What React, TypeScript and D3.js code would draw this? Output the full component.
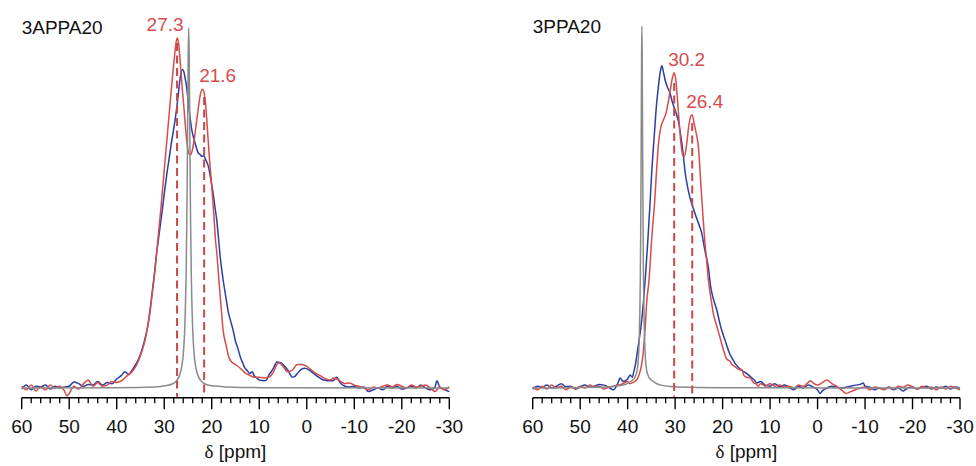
import React from 'react';
import * as d3 from 'd3';

type Pt = [number, number];

// ---- data: [ppm, intensity] ----
const leftRed: Pt[] = [[60,0.5],[59,-0.5],[58,0.8],[57,-0.8],[56,0.3],[55,-0.5],[54,0.8],[53,0],[52,0.5],[51,-0.8],[50.5,-2.2],[50,-1.5],[49,0.5],[48,-0.3],[47,1.2],[46,2.2],[45,0.5],[44,1.5],[43,0.5],[42,0.8],[41,1.8],[40,1.5],[39.3,1.8],[38.5,2.5],[38,3.2],[37.2,4],[36.5,5],[35.8,6.5],[35.1,8.7],[34.5,11],[34,13.5],[33.5,17],[33,21],[32.5,26.5],[32,32],[31.6,37.5],[31.2,43],[30.8,48.5],[30.4,54.5],[30,60.5],[29.6,66.5],[29.2,72.5],[28.8,78.5],[28.4,84.5],[28,90],[27.6,95],[27.3,97.2],[27,96],[26.6,90],[26.2,83],[25.8,77],[25.5,72],[25.2,68],[24.9,65.5],[24.5,64.7],[24.2,65.5],[23.8,68],[23.3,73],[22.8,78],[22.4,81.5],[22,83],[21.7,82.5],[21.3,79],[20.9,71.7],[20.5,64],[20,56],[19.6,49],[19.2,41],[18.9,37],[18.5,30],[18,22],[17.6,16],[17,12],[16.5,9],[16,7.5],[15,6.5],[14,5.5],[13,4.2],[12,3.5],[11,3],[10,3],[9,2.8],[8,3],[7,4.5],[6.3,6.5],[5.8,7],[5,6],[4,4.5],[3,5],[2,6.5],[1,6.5],[0,6],[-1,5],[-2,4],[-3,3.3],[-4,2.5],[-5,2.2],[-5.6,2.8],[-7,2],[-8,1.2],[-9,1.4],[-10,0.8],[-11,0.5],[-12,0],[-13,-0.5],[-14,0.3],[-15,0],[-16,0.5],[-17,0.8],[-18,0.3],[-19,1],[-20,0.5],[-21,0],[-22,0.8],[-23,0.3],[-24,0.5],[-25,0.8],[-26,0],[-27,-1],[-28,0.3],[-29,-0.5],[-30,0.3]];

const leftBlue: Pt[] = [[60,-0.3],[59,0.8],[58,-0.5],[57,0.5],[56,0.3],[55,0.8],[54,-0.3],[53,0.5],[52,0],[51,0.3],[50,0.5],[49,1.7],[48,1.2],[47,0.5],[46,1],[45,0.8],[44,1.8],[43,0.8],[42,1.5],[41,1.2],[40,2.5],[39,3.5],[38.3,4.5],[37.5,3.8],[37,4.5],[36.5,5.5],[35.8,7],[35.1,9],[34.5,11.5],[34,14],[33.5,17],[33,21.5],[32.5,27],[32,32.5],[31.6,37.5],[31.2,41.5],[30.8,45.5],[30.4,49.5],[30,54],[29.5,59],[29,63.5],[28.5,68],[28,72],[27.5,76.5],[27,82],[26.6,86.5],[26.2,88.5],[25.9,88],[25.6,86],[25.3,83.7],[24.9,79],[24.2,71.7],[23.5,68],[22.8,65.2],[22.4,64.8],[22.1,64.3],[21.7,64.6],[21.3,63.5],[20.7,61.5],[20.2,58],[19.7,54],[19.3,50],[18.95,46.7],[18.6,42],[18.3,37.5],[17.6,30],[17,25],[16.5,21],[16,18.5],[15.5,16],[15,13],[14.5,11],[14,8.7],[13.5,7],[13,5.5],[12.5,4.8],[12,4],[11.5,4.5],[11,3.3],[10.5,2.8],[10,2.2],[9,2],[8.5,2.2],[8,3.5],[7,5.5],[6.3,7.2],[5.5,7],[5,6.5],[4,5],[3,3],[2.5,3.2],[2,4],[1,5.3],[0.4,5.5],[-0.5,5],[-1.5,4],[-2.5,3],[-3.5,2.2],[-4.5,2],[-5.5,2],[-6.3,3],[-7,1.5],[-8,0.5],[-9,0.3],[-10,0.5],[-11,0],[-12,0.3],[-13,-1],[-14,-0.5],[-15,0],[-16,-0.5],[-17,0.5],[-18,0],[-19,0.5],[-20,-0.3],[-21,0],[-22,0.5],[-23,0],[-24,0.8],[-25,0],[-26,-0.5],[-27,0.3],[-27.4,2],[-28,0.2],[-29,-0.5],[-30,-1]];

const leftGray: Pt[] = [[60,0],[40,0.1],[32,0.3],[29.85,0.6],[28.35,1.1],[27.35,2.1],[26.85,3.3],[26.35,5.7],[25.95,10],[25.7,16],[25.55,22],[25.4,31],[25.25,46],[25.15,60],[25.05,77],[24.95,93],[24.85,100],[24.75,93],[24.65,77],[24.55,60],[24.45,46],[24.3,31],[24.15,22],[24,16],[23.75,10],[23.35,5.7],[22.85,3.3],[22.35,2.1],[21.35,1.1],[19.85,0.6],[17,0.3],[10,0.1],[-30,0]];

const rightRed: Pt[] = [[60,0.3],[59,-0.5],[58,0.5],[57,-0.3],[56,0.8],[55,0],[54,0.5],[53,-0.5],[52,0.3],[51,-0.3],[50,0.5],[49,0],[48,0.8],[47,0.3],[46,0.5],[45,-0.3],[44,0.2],[43,0.5],[42,0.8],[41,1.2],[40,1.8],[39.5,1.2],[39,1.5],[38.5,1.8],[38,2.5],[37.5,4],[37,7],[36.7,10],[36.3,17],[36,23.6],[35.5,30],[34.9,42],[34.3,52],[33.9,60.6],[33.5,68],[33,72.5],[32.5,74.4],[32,76],[31.5,79],[31,83],[30.6,86],[30.2,87.6],[29.9,86],[29.5,80],[29.1,73],[28.7,67],[28.3,64.5],[28,64.4],[27.6,67.5],[27.1,73],[26.7,75.5],[26.4,75.8],[26,73.5],[25.6,71],[25.1,67],[24.6,57],[24.1,47],[23.7,40],[23.4,36],[23,30],[22.3,23.6],[22,21],[21.3,17.5],[20.6,14.3],[19.8,10.5],[19.1,8],[18.5,7.5],[18,6.5],[17.5,6],[17,5.5],[16.3,5],[16,5.2],[15.5,3.5],[15,3],[14.2,2.8],[13.5,1.5],[13,1.2],[12.5,0.5],[12,1.2],[11,0.5],[10,1.2],[9,0.5],[8,0.8],[7,0.3],[6,0.5],[5,0],[4,0.8],[3,0.5],[2,1.5],[1.5,2],[1,1.5],[0,0.8],[-1,1.5],[-2,2.2],[-3,1.2],[-4,0.5],[-5,-0.5],[-6,-1.5],[-7,-1],[-8,-0.5],[-9,0],[-10,0.3],[-11,-0.5],[-12,0.3],[-13,0],[-14,-0.5],[-15,0.3],[-16,-0.3],[-17,0.5],[-18,0.2],[-19,0.8],[-20,0.3],[-21,-0.3],[-22,0.5],[-23,0],[-24,0.3],[-25,-0.5],[-26,0.3],[-27,-0.3],[-28,0.5],[-29,0],[-30,-0.5]];

const rightBlue: Pt[] = [[60,-0.3],[59,0.5],[58,0.2],[57,0.8],[56,0],[55,0.5],[54,1.2],[53,0.3],[52,0.5],[51,-0.3],[50,0.3],[49,0.8],[48,0.2],[47,0.5],[46,1],[45,0.8],[44,0.2],[43,-0.5],[42,1.5],[41.6,2.8],[41,1.8],[40,2.5],[39.5,3.6],[39,3],[38.8,4],[38.3,7],[37.8,11.5],[37.2,17],[36.7,23.5],[36.2,32],[35.7,42],[35.3,51],[34.9,60.6],[34.4,70],[33.9,79],[33.5,84],[33.1,88],[32.8,89.5],[32.5,88],[32.1,85.5],[31.6,83.5],[31.1,82],[30.6,79.5],[30.1,77.5],[29.6,75.5],[29.3,74],[28.8,70],[28.3,65],[27.9,60],[27.4,56],[26.8,52.5],[26.2,50],[25.3,46.5],[24.4,43],[23.7,38],[23,33.5],[22.5,28],[22,25],[21.3,22],[20.4,17],[19.5,13.3],[18.5,9.5],[17.8,7.8],[17.4,6.9],[16.5,5.5],[15.5,4.5],[14.9,4],[14,3],[13.3,2.2],[12.8,1.4],[12,1.8],[11,0.8],[10,0.5],[9,1.2],[8,0.3],[7,0.8],[6,0.2],[5,-0.5],[4,0.5],[3,0],[2,0.8],[1,0.3],[0,-0.5],[-0.5,-1.5],[-1,-0.8],[-2,0],[-3,0.5],[-4,0.3],[-5,0],[-6,0.2],[-7,0.5],[-8,0.8],[-9,1],[-9.6,1.4],[-10,0.5],[-11,0.2],[-12,-0.5],[-13,0],[-14,-0.3],[-15,0.2],[-16,-0.5],[-17,0],[-18,-0.8],[-19,0],[-20,0.3],[-21,-0.3],[-22,0.2],[-23,0.5],[-24,-0.3],[-25,0.3],[-26,0],[-27,0.5],[-28,-0.3],[-29,0.3],[-30,0]];

const rightGray: Pt[] = [[60,0],[47,0.2],[43,0.4],[41,0.8],[40,1.3],[39,2.2],[38.4,3.2],[38,5],[37.75,8],[37.55,14],[37.42,22],[37.32,32],[37.24,46],[37.18,60],[37.12,77],[37.06,93],[37,100.5],[36.94,93],[36.88,77],[36.82,60],[36.76,46],[36.68,32],[36.58,22],[36.45,14],[36.25,8],[36,5],[35.6,3.2],[35,2.2],[34,1.3],[33,0.8],[31,0.4],[27,0.2],[20,0.1],[-30,0]];

// peak markers: ppm, label, top intensity of the dashed marker
const leftPeakPpm = [27.3, 21.6];
const leftPeakLabels = ['27.3', '21.6'];
const leftPeakTop = [95.8, 80.8];
const leftPeakHeight = [97.2, 83];
const rightPeakPpm = [30.2, 26.4];
const rightPeakLabels = ['30.2', '26.4'];
const rightPeakTop = [84.7, 73.6];
const rightPeakHeight = [87.6, 75.8];

const majorTicks = [60, 50, 40, 30, 20, 10, 0, -10, -20, -30];
const majorTickLabels = ['60', '50', '40', '30', '20', '10', '0', '-10', '-20', '-30'];
const titles = ['3APPA20', '3PPA20'];

// ---- layout / style ----
const W = 976, H = 466;
const AXIS_Y = 397.7;
const RED = '#d64b4b';
const DASH_RED = '#c8484a';
const BLUE = '#2b3ea3';
const GRAY = '#8a8a8a';
const FONT = '"Liberation Sans", Arial, Helvetica, sans-serif';
const labelDx = [[-12, 13.5], [12.5, 12.5]];

const yScale = d3.scaleLinear().domain([0, 100]).range([388, 28]);

const panels = [
  { title: titles[0], red: leftRed, blue: leftBlue, gray: leftGray, peaks: leftPeakPpm, labels: leftPeakLabels, tops: leftPeakTop, heights: leftPeakHeight, range: [21.7, 449.3] },
  { title: titles[1], red: rightRed, blue: rightBlue, gray: rightGray, peaks: rightPeakPpm, labels: rightPeakLabels, tops: rightPeakTop, heights: rightPeakHeight, range: [532.7, 960] },
];

function Panel({ p, idx }: { p: any; idx: number }) {
  const x = d3.scaleLinear().domain([60, -30]).range(p.range);
  const line = d3.line<Pt>().x(d => x(d[0])).y(d => yScale(d[1])).curve(d3.curveMonotoneX);
  const minor = d3.range(-30, 61, 2).filter(v => v % 10 !== 0);
  return (
    <g>
      <text x={x(60)} y={idx === 0 ? 34 : 33} fontFamily={FONT} fontSize={19} fill="#111">{p.title}</text>
      <path d={line(p.blue) || ''} fill="none" stroke={BLUE} strokeWidth={1.5} strokeLinejoin="round" />
      <path d={line(p.red) || ''} fill="none" stroke={RED} strokeWidth={1.5} strokeLinejoin="round" />
      <path d={line(p.gray) || ''} fill="none" stroke={GRAY} strokeWidth={1.5} strokeLinejoin="round" />
      {p.peaks.map((pp: number, i: number) => (
        <g key={i}>
          <line x1={x(pp)} x2={x(pp)} y1={yScale(p.tops[i])} y2={AXIS_Y - 1} stroke={DASH_RED} strokeWidth={2} strokeDasharray="8,4.5" />
          <text x={x(pp) + labelDx[idx][i]} y={yScale(p.heights[i]) - 7} textAnchor="middle" fontFamily={FONT} fontSize={19} fill={RED}>{p.labels[i]}</text>
        </g>
      ))}
      <line x1={p.range[0]} x2={p.range[1]} y1={AXIS_Y} y2={AXIS_Y} stroke="#000" strokeWidth={1.4} />
      {minor.map(v => (
        <line key={'m' + v} x1={x(v)} x2={x(v)} y1={AXIS_Y} y2={AXIS_Y + 5.5} stroke="#000" strokeWidth={1.3} />
      ))}
      {majorTicks.map((v, i) => (
        <g key={'M' + v}>
          <line x1={x(v)} x2={x(v)} y1={AXIS_Y} y2={AXIS_Y + 11.5} stroke="#000" strokeWidth={1.4} />
          <text x={x(v)} y={433} textAnchor="middle" fontFamily={FONT} fontSize={19} fill="#111">{majorTickLabels[i]}</text>
        </g>
      ))}
      <text x={(p.range[0] + p.range[1]) / 2} y={458} textAnchor="middle" fontFamily={FONT} fontSize={19} fill="#111">
        <tspan fontFamily='"Liberation Serif", "DejaVu Serif", serif'>δ</tspan> [ppm]
      </text>
    </g>
  );
}

export default function App() {
  return (
    <svg width={W} height={H} style={{ position: 'absolute', left: 0, top: 0, background: '#fff' }}>
      <rect width={W} height={H} fill="#fff" />
      {panels.map((p, i) => <Panel key={i} p={p} idx={i} />)}
    </svg>
  );
}
